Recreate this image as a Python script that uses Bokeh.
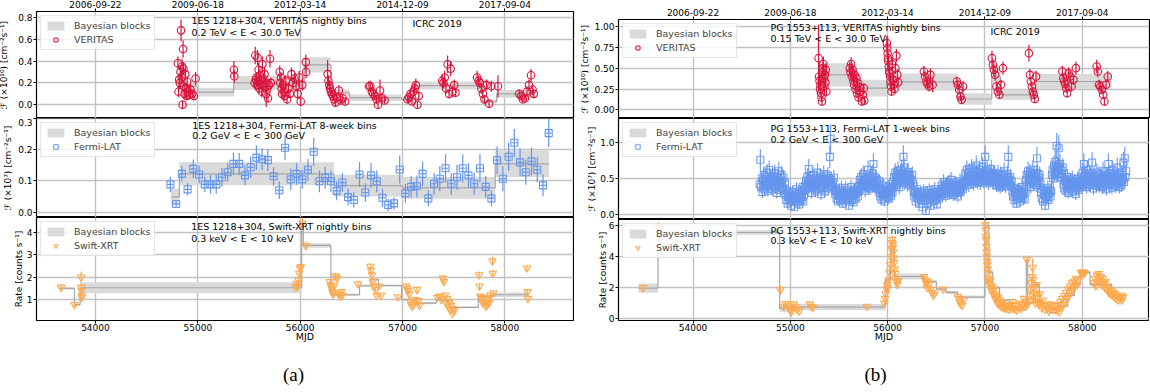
import numpy as np
from bokeh.plotting import figure
from bokeh.models import (Range1d, LinearAxis, FixedTicker, Grid, PrintfTickFormatter,
                          Legend, LegendItem, Label, ColumnDataSource)
from bokeh.layouts import row, column
from bokeh.embed import file_html
from bokeh.resources import INLINE

# ---------------------------------------------------------------- data
mjd_ticks = [54000, 55000, 56000, 57000, 58000]
date_labels = ["2006-09-22", "2009-06-18", "2012-03-14", "2014-12-09", "2017-09-04"]

# ---- (a) 1ES 1218+304, VERITAS nightly bins
ver_a_mjd = [54805, 54812, 54818, 54824, 54830, 54836, 54842, 54846, 54851, 54856, 54860, 54866,
             54872, 54878, 54884, 54890, 54896, 54905, 54915, 54928, 54945, 54962, 54978,
             55352, 55356,
             55555, 55561, 55567, 55572, 55578, 55583, 55588, 55594, 55600, 55606, 55612, 55618,
             55624, 55631, 55638, 55645, 55652, 55660, 55668, 55676, 55685, 55695, 55705, 55714,
             55800, 55806, 55812, 55818, 55824, 55832, 55840, 55850, 55860, 55872, 55885, 55900,
             55915, 55930, 55945, 55960, 55975, 55990, 56005, 56020,
             56055, 56058,
             56268, 56276, 56284, 56292, 56300, 56310, 56320, 56332, 56345, 56360, 56378, 56395, 56415, 56440,
             56672, 56685, 56700, 56715, 56730, 56745, 56760, 56780, 56800, 56825,
             57048, 57062, 57078, 57092, 57105, 57118, 57130, 57145, 57158,
             57388, 57400, 57412, 57425, 57440, 57455, 57470, 57488, 57505, 57518,
             57728, 57742, 57756, 57770, 57785, 57800, 57820, 57845, 57868,
             57932,
             58140, 58158, 58175, 58195, 58215, 58235, 58255, 58270, 58282]
ver_a_flux = [0.38, 0.12, 0.23, 0.20, 0.30, 0.68, 0.25, 0.35, 0.00, 0.51, 0.33, 0.17,
              0.10, 0.28, 0.15, 0.08, 0.21, 0.12, 0.09, 0.14, 0.10, 0.08, 0.24,
              0.32, 0.26,
              0.20, 0.45, 0.23, 0.25, 0.18, 0.43, 0.21, 0.32, 0.15, 0.27, 0.19, 0.22,
              0.12, 0.37, 0.24, 0.17, 0.28, 0.20, 0.10, 0.14, 0.06, 0.18, 0.42, 0.20,
              0.30, 0.20, 0.25, 0.15, 0.10, 0.18, 0.12, 0.08, 0.22, 0.05, 0.15, 0.10,
              0.28, 0.20, 0.24, 0.17, 0.10, 0.25, 0.03, 0.18,
              0.39, 0.30,
              0.28, 0.22, 0.18, 0.15, 0.12, 0.10, 0.08, 0.05, 0.02, 0.07, 0.13, 0.04, 0.06, 0.03,
              0.17, 0.17, 0.12, 0.10, 0.08, 0.05, 0.00, 0.13, 0.06, 0.04,
              0.05, 0.07, 0.10, 0.03, 0.12, 0.15, 0.18, 0.00, 0.08,
              0.22, 0.20, 0.25, 0.15, 0.37, 0.10, 0.33, 0.12, 0.18, 0.11,
              0.25, 0.22, 0.20, 0.15, 0.10, 0.05, 0.18, 0.01, 0.17,
              0.17,
              0.10, 0.08, 0.05, 0.06, 0.12, 0.18, 0.27, 0.14, 0.10]
ver_a_err = [0.06, 0.05, 0.06, 0.05, 0.06, 0.10, 0.06, 0.07, 0.04, 0.08, 0.06, 0.05,
             0.05, 0.06, 0.05, 0.04, 0.05, 0.05, 0.04, 0.05, 0.04, 0.04, 0.06,
             0.08, 0.06,
             0.05, 0.08, 0.05, 0.05, 0.05, 0.07, 0.05, 0.06, 0.05, 0.06, 0.05, 0.05,
             0.05, 0.07, 0.05, 0.05, 0.06, 0.05, 0.12, 0.05, 0.04, 0.05, 0.08, 0.05,
             0.06, 0.05, 0.05, 0.05, 0.05, 0.05, 0.05, 0.04, 0.05, 0.04, 0.05, 0.04,
             0.06, 0.05, 0.05, 0.05, 0.05, 0.06, 0.04, 0.05,
             0.07, 0.06,
             0.13, 0.05, 0.05, 0.05, 0.04, 0.04, 0.04, 0.04, 0.03, 0.04, 0.05, 0.03, 0.04, 0.03,
             0.05, 0.05, 0.04, 0.04, 0.04, 0.04, 0.03, 0.10, 0.04, 0.03,
             0.03, 0.04, 0.04, 0.03, 0.05, 0.05, 0.06, 0.03, 0.04,
             0.06, 0.05, 0.06, 0.05, 0.08, 0.04, 0.07, 0.05, 0.05, 0.04,
             0.06, 0.05, 0.05, 0.05, 0.04, 0.04, 0.05, 0.03, 0.05,
             0.10,
             0.04, 0.04, 0.03, 0.03, 0.05, 0.05, 0.06, 0.05, 0.04]
ver_a_bb_edges = [54800, 55000, 55350, 56040, 56300, 56480, 56990, 57160, 57780, 57920, 58290]
ver_a_bb_flux = [0.17, 0.115, 0.20, 0.365, 0.11, 0.065, 0.05, 0.175, 0.03, 0.10]
ver_a_bb_hw = [0.05, 0.04, 0.065, 0.07, 0.03, 0.03, 0.025, 0.035, 0.02, 0.035]

# ---- (a) 1ES 1218+304, Fermi-LAT 8-week bins (first bin centre, bin width in days)
lat_a_start = 54732
lat_a_bin = 56
lat_a_flux = [0.089, 0.026, 0.123, 0.073, 0.139, 0.121, 0.089, 0.089, 0.089, 0.112,
              0.128, 0.155, 0.155, 0.118, 0.144, 0.175, 0.170, 0.167, 0.115, 0.070,
              0.207, 0.105, 0.123, 0.105, 0.136, 0.194, 0.099, 0.110, 0.099, 0.068,
              0.095, 0.048, 0.039, 0.121, 0.063, 0.118, 0.099, 0.046, 0.023, 0.028,
              0.137, 0.060, 0.081, 0.083, 0.123, 0.044, 0.091, 0.107, 0.141, 0.091,
              0.112, 0.141, 0.118, 0.091, 0.141, 0.081, 0.044, 0.167, 0.107, 0.178,
              0.223, 0.160, 0.128, 0.163, 0.136, 0.086, 0.254]
lat_a_err = [0.025, 0.012, 0.025, 0.02, 0.03, 0.028, 0.025, 0.03, 0.03, 0.03,
             0.03, 0.035, 0.035, 0.032, 0.035, 0.04, 0.035, 0.035, 0.03, 0.028,
             0.04, 0.035, 0.035, 0.03, 0.035, 0.045, 0.035, 0.035, 0.035, 0.03,
             0.03, 0.028, 0.025, 0.04, 0.03, 0.04, 0.035, 0.03, 0.02, 0.02,
             0.045, 0.03, 0.035, 0.035, 0.04, 0.025, 0.035, 0.04, 0.045, 0.035,
             0.04, 0.045, 0.04, 0.035, 0.045, 0.035, 0.025, 0.045, 0.04, 0.045,
             0.045, 0.045, 0.04, 0.045, 0.04, 0.035, 0.045]
lat_a_bb_edges = [54738, 54820, 56330, 56998, 57905, 58430]
lat_a_bb_flux = [0.048, 0.123, 0.085, 0.078, 0.155]
lat_a_bb_hw = [0.027, 0.037, 0.035, 0.035, 0.043]

# ---- (a) 1ES 1218+304, Swift-XRT nightly bins
xrt_a_mjd = [53665, 53795, 53860, 53862, 53864, 53866, 53868,
             55958, 55966, 55974, 55982, 55990, 55998, 56006, 56022, 56055,
             56290, 56298, 56306, 56314, 56322, 56330, 56345, 56360, 56375, 56390, 56400, 56410,
             56565,
             56685, 56692, 56700, 56710, 56720, 56735, 56750, 56770, 56790,
             56955,
             57035, 57045, 57055, 57065, 57075, 57085, 57095, 57110, 57125, 57140, 57155, 57165,
             57340, 57360, 57380, 57395, 57405, 57415, 57425, 57435, 57445, 57455, 57465, 57475, 57485, 57495, 57505,
             57748, 57752, 57760, 57775, 57785, 57795, 57805, 57815, 57825, 57835, 57845, 57858, 57878, 57882, 57888,
             58215, 58220, 58225]
xrt_a_rate = [1.55, 0.78, 2.0, 1.55, 1.4, 1.18, 1.1,
              1.57, 1.72, 1.6, 1.87, 2.17, 2.4, 2.47, 4.4, 3.4,
              1.8, 1.65, 1.5, 1.35, 1.25, 1.6, 2.05, 1.95, 1.28, 1.15, 1.35, 1.2,
              1.7,
              2.48, 2.3, 2.1, 1.8, 1.6, 1.45, 1.18, 1.6, 1.2,
              1.12,
              1.6, 1.5, 1.4, 1.25, 0.92, 0.78, 0.7, 0.8, 1.0, 1.45, 0.95, 0.75,
              1.1, 1.15, 1.0, 1.95, 1.8, 1.2, 0.85, 1.05, 0.7, 0.9, 0.55, 0.75, 0.4, 0.6, 0.5,
              2.1, 1.6, 1.15, 1.0, 0.85, 1.1, 0.9, 0.7, 0.8, 1.0, 0.85, 1.2, 2.72, 2.17, 1.3,
              2.4, 1.35, 1.05]
xrt_a_err = [0.1, 0.1, 0.25, 0.12, 0.1, 0.1, 0.1,
             0.1, 0.12, 0.1, 0.12, 0.15, 0.15, 0.15, 0.3, 0.2,
             0.12, 0.1, 0.1, 0.1, 0.08, 0.1, 0.15, 0.12, 0.1, 0.08, 0.1, 0.08,
             0.12,
             0.15, 0.15, 0.12, 0.12, 0.1, 0.1, 0.08, 0.1, 0.08,
             0.1,
             0.12, 0.1, 0.1, 0.1, 0.08, 0.07, 0.07, 0.08, 0.1, 0.12, 0.08, 0.07,
             0.1, 0.1, 0.08, 0.15, 0.12, 0.1, 0.08, 0.1, 0.07, 0.08, 0.06, 0.07, 0.05, 0.06, 0.06,
             0.15, 0.12, 0.1, 0.08, 0.08, 0.1, 0.08, 0.07, 0.08, 0.1, 0.08, 0.1, 0.2, 0.15, 0.1,
             0.15, 0.1, 0.08]
xrt_a_bb_edges = [53640, 53795, 53850, 56015, 56030, 56300, 56580, 56690, 56765, 56990,
                  57150, 57330, 57480, 57740, 57890, 58230]
xrt_a_bb_rate = [1.5, 0.78, 1.53, 4.4, 3.41, 1.22, 1.62, 1.9, 1.63, 1.0, 0.85, 1.0, 0.66, 1.16, 1.22]
xrt_a_bb_hw = [0.05, 0.05, 0.24, 0.1, 0.1, 0.06, 0.06, 0.08, 0.05, 0.05, 0.05, 0.05, 0.04, 0.06, 0.1]

# ---- (b) PG 1553+113, VERITAS nightly bins
ver_b_mjd = [55290, 55295, 55300, 55305, 55310, 55315, 55320, 55325, 55330, 55335, 55340, 55345,
             55350, 55355, 55360, 55365, 55370,
             55610, 55618, 55625, 55632, 55640, 55648, 55655, 55662, 55670, 55678, 55685, 55692,
             55700, 55710, 55720, 55735, 55745, 55755, 55760,
             55992, 55996, 56000, 56004, 56008, 56012, 56016, 56020, 56025, 56030, 56035, 56040,
             56048, 56055, 56062, 56070, 56080, 56090, 56100, 56108,
             56372, 56385, 56398, 56410, 56425, 56440, 56462,
             56712, 56722, 56735, 56748, 56760, 56775,
             57072, 57082, 57092, 57105, 57118, 57132, 57148, 57165, 57185,
             57452, 57462, 57472, 57482, 57492, 57502, 57512, 57525,
             57795, 57805, 57815, 57825, 57835, 57845, 57860, 57875, 57890, 57910, 57935,
             58148, 58160, 58172, 58185, 58200, 58215, 58228, 58245, 58262]
ver_b_flux = [0.62, 0.40, 0.35, 0.25, 0.30, 0.20, 0.15, 0.10, 0.45, 0.50, 0.55, 0.38,
              0.28, 0.42, 0.33, 0.48, 0.22,
              0.50, 0.45, 0.55, 0.40, 0.48, 0.35, 0.30, 0.42, 0.25, 0.38, 0.20, 0.32,
              0.15, 0.27, 0.22, 0.10, 0.18, 0.26, 0.11,
              0.80, 0.74, 0.68, 0.62, 0.58, 0.52, 0.46, 0.44, 0.40, 0.34, 0.28, 0.22,
              0.55, 0.36, 0.30, 0.25, 0.50, 0.65, 0.42, 0.33,
              0.46, 0.40, 0.34, 0.31, 0.28, 0.42, 0.30,
              0.34, 0.30, 0.24, 0.16, 0.12, 0.28,
              0.62, 0.54, 0.48, 0.42, 0.28, 0.22, 0.18, 0.30, 0.50,
              0.68, 0.42, 0.34, 0.28, 0.22, 0.18, 0.13, 0.40,
              0.46, 0.38, 0.34, 0.31, 0.26, 0.20, 0.44, 0.40, 0.28, 0.36, 0.50,
              0.52, 0.46, 0.30, 0.28, 0.24, 0.18, 0.10, 0.30, 0.40]
ver_b_err = [0.40, 0.08, 0.07, 0.06, 0.06, 0.06, 0.05, 0.05, 0.08, 0.08, 0.09, 0.07,
             0.06, 0.07, 0.06, 0.08, 0.06,
             0.08, 0.07, 0.08, 0.07, 0.08, 0.07, 0.06, 0.07, 0.06, 0.07, 0.06, 0.06,
             0.05, 0.06, 0.06, 0.05, 0.05, 0.06, 0.05,
             0.09, 0.08, 0.20, 0.08, 0.07, 0.07, 0.07, 0.06, 0.06, 0.06, 0.06, 0.05,
             0.08, 0.06, 0.06, 0.06, 0.07, 0.08, 0.07, 0.06,
             0.07, 0.07, 0.06, 0.06, 0.06, 0.08, 0.09,
             0.06, 0.06, 0.05, 0.05, 0.04, 0.07,
             0.09, 0.08, 0.08, 0.07, 0.06, 0.05, 0.05, 0.06, 0.08,
             0.10, 0.07, 0.06, 0.06, 0.05, 0.05, 0.05, 0.07,
             0.07, 0.06, 0.06, 0.06, 0.05, 0.05, 0.07, 0.07, 0.06, 0.06, 0.08,
             0.08, 0.07, 0.06, 0.06, 0.05, 0.05, 0.05, 0.06, 0.07]
ver_b_bb_edges = [55285, 55620, 55735, 55990, 56720, 57070, 57160, 57520, 58300]
ver_b_bb_flux = [0.42, 0.35, 0.26, 0.335, 0.13, 0.40, 0.18, 0.34]
ver_b_bb_hw = [0.14, 0.08, 0.10, 0.10, 0.07, 0.08, 0.06, 0.09]

# ---- (b) PG 1553+113, Fermi-LAT 1-week bins (first bin centre, bin width in days)
lat_b_start = 54685
lat_b_bin = 7
lat_b_flux = [
    0.42, 0.76, 0.38, 0.50, 0.31, 0.47, 0.55, 0.36, 0.44, 0.52,
    0.40, 0.58, 0.33, 0.46, 0.62, 0.39, 0.50, 0.44, 0.35, 0.53,
    0.48, 0.41, 0.57, 0.37, 0.45, 0.30, 0.52, 0.43, 0.60, 0.38,
    0.47, 0.34, 0.55, 0.42, 0.36, 0.51, 0.29, 0.44,
    0.27, 0.20, 0.33, 0.15, 0.24, 0.30, 0.18, 0.26, 0.12, 0.22,
    0.31, 0.19, 0.25, 0.10, 0.28, 0.21, 0.35, 0.17, 0.23, 0.29,
    0.14, 0.26, 0.32, 0.20, 0.24, 0.38, 0.18, 0.27, 0.33,
    0.40, 0.47, 0.36, 0.52, 0.44, 0.63, 0.38, 0.49, 0.42, 0.30,
    0.45, 0.55, 0.37, 0.48, 0.41, 0.33, 0.50, 0.43, 0.58, 0.35,
    0.46, 0.39, 0.52, 0.28, 0.44, 0.49, 0.37, 0.56, 0.41, 0.32,
    0.47, 0.43, 0.38, 0.54, 0.45, 0.50, 0.80, 1.05, 0.48, 0.40,
    0.36, 0.44, 0.51, 0.33,
    0.28, 0.35, 0.22, 0.31, 0.18, 0.26, 0.34, 0.20, 0.29, 0.37,
    0.24, 0.15, 0.30, 0.27, 0.21, 0.36, 0.19, 0.28, 0.33, 0.23,
    0.12, 0.29, 0.25, 0.38, 0.20, 0.31, 0.26, 0.17, 0.34, 0.28,
    0.22, 0.30, 0.36, 0.25, 0.32,
    0.40, 0.48, 0.35, 0.52, 0.44, 0.39, 0.56, 0.42, 0.47, 0.33,
    0.50, 0.45, 0.38, 0.62, 0.41, 0.49, 0.36, 0.53, 0.46, 0.40,
    0.57, 0.70, 0.44, 0.39, 0.51, 0.37, 0.48, 0.43, 0.35, 0.46,
    0.30, 0.25, 0.36, 0.21, 0.33, 0.28, 0.40, 0.18, 0.31, 0.27,
    0.35, 0.24, 0.30, 0.38, 0.22, 0.29, 0.34, 0.26, 0.37, 0.31,
    0.45, 0.52, 0.40, 0.58, 0.47, 0.55, 0.43, 0.61, 0.50, 0.38,
    0.54, 0.46, 0.62, 0.49, 0.57, 0.80, 0.65, 0.44, 0.52, 0.48,
    0.56, 0.42, 0.59, 0.51, 0.45, 0.53, 0.40, 0.48, 0.55, 0.43,
    0.32, 0.25, 0.30, 0.18, 0.27, 0.35, 0.22, 0.29, 0.15, 0.26,
    0.31, 0.20, 0.28, 0.10, 0.24, 0.33, 0.19, 0.27, 0.05, 0.22,
    0.30, 0.16, 0.25, 0.34, 0.21, 0.12, 0.28, 0.23, 0.31, 0.18,
    0.26, 0.35, 0.20, 0.29, 0.14, 0.27, 0.32, 0.22, 0.30, 0.25,
    0.33, 0.40, 0.28, 0.36, 0.45, 0.31, 0.38, 0.26, 0.42, 0.34,
    0.29, 0.37, 0.44, 0.30, 0.39, 0.48, 0.32, 0.35, 0.27, 0.41,
    0.36, 0.30, 0.43, 0.33, 0.38, 0.25, 0.40, 0.34, 0.46, 0.31,
    0.37, 0.42, 0.35, 0.39, 0.44,
    0.50, 0.57, 0.45, 0.62, 0.48, 0.53, 0.41, 0.59, 0.52, 0.46,
    0.64, 0.49, 0.55, 0.43, 0.60, 0.51, 0.47, 0.68, 0.54, 0.45,
    0.58, 0.50, 0.62, 0.44, 0.53, 0.49, 0.66, 0.52, 0.46, 0.57,
    0.80, 0.55, 0.48, 0.61, 0.50, 0.44, 0.58, 0.53, 0.47, 0.63,
    0.51, 0.45, 0.56, 0.49, 0.54,
    0.45, 0.52, 0.40, 0.48, 0.57, 0.42, 0.50, 0.38, 0.55, 0.46,
    0.41, 0.53, 0.44, 0.60, 0.47, 0.39, 0.51, 0.45, 0.56, 0.80,
    0.48, 0.43, 0.52, 0.40, 0.46,
    0.32, 0.25, 0.36, 0.20, 0.30, 0.27, 0.15, 0.34, 0.22, 0.29,
    0.35, 0.18, 0.31, 0.26, 0.38, 0.23, 0.28, 0.33, 0.21, 0.30,
    0.48, 0.55, 0.42, 0.60, 0.50, 0.45, 0.58, 0.38, 0.53, 0.47,
    0.62, 0.44, 0.56, 0.49, 0.52, 0.41, 0.78, 0.57, 0.46, 0.51,
    0.55, 0.43,
    0.30, 0.22, 0.35, 0.18, 0.28, 0.33, 0.12, 0.26, 0.31, 0.24,
    0.37, 0.20, 0.29, 0.34, 0.25, 0.32,
    0.55, 0.62, 0.50, 0.68, 0.58, 0.73, 0.60, 0.95, 0.66, 0.56,
    0.92, 0.64, 0.70, 0.52, 0.61, 0.57, 0.65,
    0.42, 0.36, 0.48, 0.33, 0.45, 0.40, 0.52, 0.30, 0.44, 0.38,
    0.47, 0.35, 0.41, 0.50, 0.32, 0.43, 0.39, 0.46, 0.28, 0.42,
    0.37, 0.49, 0.34, 0.44, 0.40,
    0.45, 0.52, 0.40, 0.58, 0.48, 0.70, 0.43, 0.55, 0.47, 0.38,
    0.62, 0.50, 0.44, 0.57, 0.41, 0.53, 0.46, 0.72, 0.49, 0.36,
    0.54, 0.45, 0.51, 0.40, 0.58, 0.47, 0.43, 0.55, 0.39, 0.50,
    0.44, 0.52, 0.38, 0.60, 0.47, 0.41, 0.55, 0.46, 0.35, 0.53,
    0.49, 0.70, 0.42, 0.57, 0.45, 0.51, 0.37, 0.62, 0.48, 0.43,
    0.56, 0.40, 0.50, 0.46, 0.65, 0.44, 0.52, 0.38, 0.58, 0.47,
    0.41, 0.55, 0.49, 0.72, 0.45, 0.78, 0.52, 0.60]
lat_b_err = [
    0.10, 0.15, 0.09, 0.11, 0.08, 0.10, 0.12, 0.09, 0.10, 0.11,
    0.10, 0.12, 0.08, 0.10, 0.13, 0.09, 0.11, 0.10, 0.09, 0.12,
    0.11, 0.10, 0.12, 0.09, 0.10, 0.08, 0.11, 0.10, 0.13, 0.09,
    0.11, 0.09, 0.12, 0.10, 0.09, 0.11, 0.08, 0.10,
    0.08, 0.07, 0.09, 0.06, 0.08, 0.09, 0.07, 0.08, 0.06, 0.08,
    0.09, 0.07, 0.08, 0.05, 0.09, 0.07, 0.10, 0.07, 0.08, 0.09,
    0.06, 0.08, 0.09, 0.07, 0.08, 0.10, 0.07, 0.08, 0.09,
    0.10, 0.11, 0.09, 0.12, 0.10, 0.14, 0.09, 0.11, 0.10, 0.08,
    0.10, 0.12, 0.09, 0.11, 0.10, 0.09, 0.11, 0.10, 0.13, 0.09,
    0.10, 0.09, 0.12, 0.08, 0.10, 0.11, 0.09, 0.12, 0.10, 0.08,
    0.11, 0.10, 0.09, 0.12, 0.10, 0.11, 0.16, 0.20, 0.11, 0.10,
    0.09, 0.10, 0.11, 0.09,
    0.08, 0.09, 0.07, 0.09, 0.06, 0.08, 0.09, 0.07, 0.08, 0.10,
    0.08, 0.06, 0.09, 0.08, 0.07, 0.10, 0.07, 0.08, 0.09, 0.07,
    0.05, 0.08, 0.08, 0.10, 0.07, 0.09, 0.08, 0.06, 0.09, 0.08,
    0.07, 0.09, 0.10, 0.08, 0.09,
    0.10, 0.11, 0.09, 0.12, 0.10, 0.09, 0.12, 0.10, 0.11, 0.09,
    0.11, 0.10, 0.09, 0.13, 0.10, 0.11, 0.09, 0.12, 0.10, 0.10,
    0.12, 0.15, 0.10, 0.09, 0.11, 0.09, 0.11, 0.10, 0.09, 0.10,
    0.09, 0.08, 0.10, 0.07, 0.09, 0.08, 0.10, 0.07, 0.09, 0.08,
    0.10, 0.08, 0.09, 0.10, 0.07, 0.09, 0.09, 0.08, 0.10, 0.09,
    0.11, 0.12, 0.10, 0.13, 0.11, 0.12, 0.10, 0.13, 0.11, 0.10,
    0.12, 0.11, 0.13, 0.11, 0.12, 0.16, 0.14, 0.10, 0.12, 0.11,
    0.12, 0.10, 0.13, 0.11, 0.10, 0.12, 0.10, 0.11, 0.12, 0.10,
    0.09, 0.08, 0.09, 0.07, 0.08, 0.10, 0.07, 0.09, 0.06, 0.08,
    0.09, 0.07, 0.08, 0.05, 0.08, 0.09, 0.07, 0.08, 0.04, 0.07,
    0.09, 0.06, 0.08, 0.09, 0.07, 0.05, 0.08, 0.07, 0.09, 0.06,
    0.08, 0.10, 0.07, 0.08, 0.06, 0.08, 0.09, 0.07, 0.09, 0.08,
    0.09, 0.10, 0.08, 0.09, 0.11, 0.09, 0.10, 0.08, 0.10, 0.09,
    0.08, 0.10, 0.11, 0.09, 0.10, 0.11, 0.09, 0.09, 0.08, 0.10,
    0.09, 0.09, 0.10, 0.09, 0.10, 0.08, 0.10, 0.09, 0.11, 0.09,
    0.10, 0.10, 0.09, 0.10, 0.11,
    0.11, 0.12, 0.10, 0.13, 0.11, 0.12, 0.10, 0.12, 0.11, 0.10,
    0.13, 0.11, 0.12, 0.10, 0.13, 0.11, 0.10, 0.14, 0.12, 0.10,
    0.12, 0.11, 0.13, 0.10, 0.12, 0.11, 0.13, 0.11, 0.10, 0.12,
    0.16, 0.12, 0.11, 0.13, 0.11, 0.10, 0.12, 0.11, 0.10, 0.13,
    0.11, 0.10, 0.12, 0.11, 0.12,
    0.10, 0.11, 0.09, 0.11, 0.12, 0.10, 0.11, 0.09, 0.12, 0.10,
    0.10, 0.11, 0.10, 0.12, 0.11, 0.09, 0.11, 0.10, 0.12, 0.16,
    0.11, 0.10, 0.11, 0.09, 0.10,
    0.09, 0.08, 0.09, 0.07, 0.09, 0.08, 0.06, 0.09, 0.07, 0.08,
    0.09, 0.07, 0.09, 0.08, 0.10, 0.07, 0.08, 0.09, 0.07, 0.08,
    0.11, 0.12, 0.10, 0.13, 0.11, 0.10, 0.12, 0.09, 0.12, 0.11,
    0.13, 0.10, 0.12, 0.11, 0.11, 0.10, 0.16, 0.12, 0.10, 0.11,
    0.12, 0.10,
    0.09, 0.07, 0.09, 0.06, 0.08, 0.09, 0.05, 0.08, 0.09, 0.07,
    0.10, 0.07, 0.08, 0.09, 0.08, 0.09,
    0.12, 0.13, 0.11, 0.14, 0.12, 0.15, 0.13, 0.18, 0.14, 0.12,
    0.18, 0.13, 0.14, 0.11, 0.13, 0.12, 0.13,
    0.10, 0.09, 0.11, 0.09, 0.10, 0.10, 0.11, 0.08, 0.10, 0.09,
    0.11, 0.09, 0.10, 0.11, 0.08, 0.10, 0.09, 0.10, 0.08, 0.10,
    0.09, 0.11, 0.09, 0.10, 0.10,
    0.11, 0.12, 0.10, 0.13, 0.11, 0.15, 0.10, 0.12, 0.11, 0.09,
    0.13, 0.11, 0.10, 0.12, 0.10, 0.12, 0.11, 0.15, 0.11, 0.09,
    0.12, 0.10, 0.11, 0.10, 0.13, 0.11, 0.10, 0.12, 0.09, 0.11,
    0.11, 0.12, 0.10, 0.13, 0.11, 0.10, 0.12, 0.11, 0.09, 0.12,
    0.11, 0.15, 0.10, 0.12, 0.11, 0.12, 0.09, 0.13, 0.11, 0.10,
    0.12, 0.10, 0.11, 0.11, 0.14, 0.10, 0.12, 0.09, 0.13, 0.11,
    0.10, 0.12, 0.11, 0.15, 0.11, 0.16, 0.12, 0.13]
lat_b_bb_edges = [54682, 54948, 55150, 55458, 55703, 55913, 56053, 56263, 56543, 56788,
                  57103, 57278, 57418, 57572, 57684, 57803, 57978, 58454]
lat_b_bb_flux = [0.45, 0.24, 0.44, 0.28, 0.46, 0.30, 0.51, 0.25, 0.36, 0.53,
                 0.47, 0.27, 0.51, 0.27, 0.63, 0.40, 0.49]
lat_b_bb_hw = [0.05, 0.04, 0.05, 0.04, 0.05, 0.04, 0.05, 0.04, 0.04, 0.05,
               0.05, 0.04, 0.05, 0.04, 0.06, 0.05, 0.05]

# ---- (b) PG 1553+113, Swift-XRT nightly bins
xrt_b_mjd = [53486, 53645, 53650, 53655,
             54898, 54930, 54950, 54975, 55000, 55010, 55020, 55035, 55050, 55070, 55090, 55200, 55215, 55230, 55788,
             55965, 55972, 55980, 55988, 55995, 56002, 56010, 56018, 56025, 56032, 56040, 56046,
             56048, 56052, 56055, 56058, 56062, 56068, 56072, 56078, 56085, 56092, 56100, 56108,
             56375, 56385, 56395, 56405, 56415, 56425, 56440, 56455, 56470, 56480,
             56570,
             56720, 56730, 56740, 56750, 56765, 56780,
             57005, 57008, 57010, 57012, 57015, 57018, 57020, 57023, 57025, 57028, 57030, 57033,
             57040, 57048, 57055, 57060, 57068, 57075, 57082, 57090, 57098, 57105, 57112, 57120,
             57128, 57135, 57142, 57150, 57158, 57165, 57172, 57180, 57190, 57200, 57210, 57220,
             57232, 57245, 57255,
             57265, 57275, 57285, 57295, 57305, 57318, 57330, 57345, 57360, 57372, 57385,
             57400, 57410, 57420, 57430, 57435,
             57455, 57462, 57470, 57478, 57485, 57490, 57495, 57500, 57505, 57510, 57518, 57525,
             57532, 57540, 57548, 57555, 57565,
             57575, 57585, 57595, 57605, 57615, 57625, 57640, 57655, 57670, 57685, 57700, 57715, 57730,
             57745, 57755, 57765, 57775, 57785, 57795, 57805, 57815, 57825, 57835, 57845, 57855,
             57865, 57875, 57885, 57895, 57905, 57915, 57925, 57935, 57945, 57955,
             57985, 57995, 58005, 58015, 58025,
             58120, 58130, 58140, 58150, 58160, 58170, 58180, 58190, 58200, 58210, 58220, 58230,
             58240, 58250, 58260, 58270, 58280,
             58290, 58300, 58310, 58320, 58330, 58340, 58350, 58360, 58370, 58380, 58390, 58400,
             58410, 58420]
xrt_b_rate = [2.0, 5.93, 5.6, 5.14,
              1.86, 0.8, 0.97, 0.86, 0.55, 0.45, 0.7, 0.95, 0.8, 0.6, 0.5, 0.95, 0.8, 0.75, 0.8,
              1.0, 1.3, 1.6, 1.9, 2.2, 2.0, 2.5, 3.0, 3.5, 4.0, 4.5, 4.9,
              5.1, 4.8, 4.6, 4.3, 3.9, 3.6, 3.2, 2.9, 2.6, 2.4, 2.2, 2.45,
              2.7, 2.5, 2.3, 2.0, 2.4, 2.2, 1.9, 1.7, 1.5, 1.6,
              1.9,
              1.44, 1.3, 1.1, 0.95, 0.87, 1.2,
              6.05, 5.72, 5.3, 5.08, 4.65, 4.3, 4.0, 3.7, 3.47, 3.2, 2.93, 2.6,
              2.4, 2.2, 2.5, 2.0, 1.8, 2.1, 1.6, 1.9, 1.5, 1.3, 1.6, 1.2,
              1.0, 1.4, 1.1, 0.9, 1.2, 0.8, 1.0, 0.75, 0.9, 0.7, 0.85, 0.65,
              0.8, 0.6, 0.75,
              0.9, 0.65, 1.1, 0.7, 0.6, 0.85, 0.55, 0.75, 1.0, 0.65, 0.9,
              1.3, 0.8, 1.1, 3.8, 0.9,
              1.2, 1.5, 1.9, 2.3, 2.7, 3.3, 2.5, 2.0, 1.6, 1.3, 1.0, 1.7,
              2.2, 1.4, 1.1, 0.9, 1.6,
              1.0, 0.7, 1.2, 0.85, 0.6, 0.9, 0.7, 0.5, 0.95, 0.75, 0.6, 0.85, 0.55,
              0.6, 0.9, 0.45, 1.1, 0.7, 1.3, 0.9, 1.5, 1.1, 1.7, 1.3, 1.9,
              1.5, 2.1, 1.8, 2.3, 1.9, 2.4, 2.1, 2.6, 2.2, 2.5,
              2.98, 3.0, 2.9, 3.0, 2.95,
              2.3, 2.6, 2.1, 2.8, 2.4, 2.9, 2.5, 2.7, 2.2, 2.6, 2.3, 2.0,
              2.4, 1.9, 2.1, 1.7, 1.9,
              1.6, 1.8, 1.5, 1.7, 1.4, 1.6, 1.3, 1.5, 1.2, 1.4, 1.3, 1.5,
              1.2, 1.4]
xrt_b_err = [0.2, 0.3, 0.3, 0.3,
             0.3, 0.1, 0.12, 0.1, 0.08, 0.08, 0.1, 0.12, 0.1, 0.08, 0.08, 0.12, 0.1, 0.1, 0.1,
             0.1, 0.12, 0.12, 0.15, 0.15, 0.15, 0.15, 0.2, 0.2, 0.2, 0.25, 0.25,
             0.25, 0.25, 0.25, 0.2, 0.2, 0.2, 0.2, 0.15, 0.15, 0.15, 0.15, 0.15,
             0.2, 0.15, 0.15, 0.12, 0.15, 0.12, 0.12, 0.1, 0.1, 0.1,
             0.12,
             0.1, 0.1, 0.08, 0.08, 0.07, 0.1,
             0.3, 0.3, 0.25, 0.25, 0.25, 0.2, 0.2, 0.2, 0.2, 0.15, 0.15, 0.15,
             0.15, 0.15, 0.15, 0.12, 0.12, 0.12, 0.1, 0.12, 0.1, 0.1, 0.1, 0.1,
             0.08, 0.1, 0.08, 0.07, 0.08, 0.07, 0.08, 0.06, 0.07, 0.06, 0.07, 0.06,
             0.07, 0.06, 0.06,
             0.08, 0.06, 0.1, 0.06, 0.06, 0.07, 0.05, 0.07, 0.08, 0.06, 0.07,
             0.1, 0.07, 0.1, 0.2, 0.08,
             0.1, 0.12, 0.15, 0.15, 0.2, 0.6, 0.2, 0.15, 0.12, 0.1, 0.08, 0.12,
             0.15, 0.1, 0.08, 0.07, 0.12,
             0.08, 0.06, 0.1, 0.07, 0.05, 0.07, 0.06, 0.05, 0.08, 0.06, 0.05, 0.07, 0.05,
             0.05, 0.07, 0.05, 0.08, 0.06, 0.1, 0.07, 0.1, 0.08, 0.12, 0.1, 0.12,
             0.1, 0.12, 0.12, 0.15, 0.12, 0.15, 0.12, 0.15, 0.12, 0.15,
             0.15, 0.15, 0.15, 0.15, 0.15,
             0.12, 0.15, 0.12, 0.15, 0.12, 0.15, 0.12, 0.15, 0.12, 0.15, 0.12, 0.1,
             0.12, 0.1, 0.1, 0.1, 0.1,
             0.1, 0.1, 0.1, 0.1, 0.08, 0.1, 0.08, 0.1, 0.08, 0.08, 0.08, 0.1,
             0.08, 0.08]
xrt_b_bb_edges = [53440, 53640, 54890, 55000, 55976, 56030, 56070, 56370, 56500, 56600,
                  56720, 57000, 57040, 57080, 57150, 57260, 57425, 57440, 57500, 57560,
                  57660, 57740, 57850, 57920, 57980, 58080, 58300, 58440]
xrt_b_bb_rate = [1.97, 5.55, 0.67, 0.75, 2.5, 4.6, 2.72, 2.4, 1.91, 1.7, 1.4, 6.0, 3.0, 2.0,
                 1.2, 0.58, 3.8, 1.0, 2.2, 0.87, 0.4, 0.8, 1.5, 2.2, 2.98, 2.2, 1.5]
xrt_b_bb_hw = [0.3, 0.15, 0.25, 0.2, 0.2, 0.2, 0.2, 0.1, 0.1, 0.1, 0.1, 0.2, 0.15, 0.1,
               0.08, 0.06, 0.3, 0.08, 0.15, 0.06, 0.06, 0.06, 0.08, 0.1, 0.1, 0.08, 0.08]

captions = ["(a)", "(b)"]

# ---------------------------------------------------------------- style
FONT = "DejaVu Sans"
GRID_COLOR = "#c2c2c2"
BAND_COLOR = "#dadada"
STEP_COLOR = "#a6a6a6"
C_VER = "#dc143c"
C_LAT = "#6495ed"
C_XRT = "#ffa94d"
FRAMES = {}


def style_axis(ax, tick_font="9px", label_font="9px"):
    ax.major_label_text_font = FONT
    ax.major_label_text_font_size = tick_font
    ax.major_label_text_color = "black"
    ax.axis_label_text_font = FONT
    ax.axis_label_text_font_size = label_font
    ax.axis_label_text_font_style = "normal"
    ax.axis_label_text_color = "black"
    ax.major_tick_out = 3
    ax.major_tick_in = 0
    ax.minor_tick_out = 0
    ax.minor_tick_in = 0
    ax.major_tick_line_color = "black"
    ax.major_tick_line_width = 1
    ax.axis_line_color = None
    ax.major_label_standoff = 1


def panel(xr, yr, fw, fh, bl, br, bt, bb, yticks, yfmt, ylabel, ylab_standoff):
    p = figure(x_range=Range1d(*xr), y_range=Range1d(*yr),
               frame_width=fw, frame_height=fh,
               min_border_left=bl, min_border_right=br, min_border_top=bt, min_border_bottom=bb,
               x_axis_location=None, y_axis_location=None,
               toolbar_location=None, output_backend="svg")
    p.center = []
    p.outline_line_color = "black"
    p.outline_line_width = 1.2
    p.background_fill_color = "white"
    p.border_fill_color = "white"
    yax = LinearAxis(ticker=FixedTicker(ticks=yticks), formatter=PrintfTickFormatter(format=yfmt),
                     axis_label=ylabel)
    style_axis(yax)
    yax.axis_label_standoff = ylab_standoff
    p.add_layout(yax, "left")
    p.add_layout(Grid(dimension=0, ticker=FixedTicker(ticks=mjd_ticks),
                      grid_line_color=GRID_COLOR, grid_line_width=1.4))
    p.add_layout(Grid(dimension=1, ticker=FixedTicker(ticks=yticks),
                      grid_line_color=GRID_COLOR, grid_line_width=1.4))
    FRAMES[id(p)] = (xr, yr, fw, fh)
    return p


def date_axis(p):
    ax = LinearAxis(ticker=FixedTicker(ticks=mjd_ticks),
                    major_label_overrides={t: d for t, d in zip(mjd_ticks, date_labels)})
    style_axis(ax)
    p.add_layout(ax, "above")


def mjd_axis(p):
    ax = LinearAxis(ticker=FixedTicker(ticks=mjd_ticks), formatter=PrintfTickFormatter(format="%d"),
                    axis_label="MJD")
    style_axis(ax, label_font="9.5px")
    ax.major_label_standoff = 0
    ax.axis_label_standoff = -3
    p.add_layout(ax, "below")


def blocks(p, edges, vals, hws):
    e = np.asarray(edges, float)
    v = np.asarray(vals, float)
    h = np.asarray(hws, float)
    src = ColumnDataSource(dict(l=e[:-1], r=e[1:], b=v - h, t=v + h))
    band = p.quad(left="l", right="r", bottom="b", top="t", source=src,
                  fill_color=BAND_COLOR, fill_alpha=1.0, line_color=None)
    p.step(x=e, y=np.append(v, v[-1]), mode="after", line_color=STEP_COLOR, line_width=1.2)
    return band


def points(p, x, y, err, xerr, marker, color, size, alpha=1.0):
    n = min(len(x), len(y), len(err))
    x = np.asarray(x[:n], float)
    y = np.asarray(y[:n], float)
    e = np.asarray(err[:n], float)
    src = ColumnDataSource(dict(x=x, y=y, lo=y - e, hi=y + e, xl=x - xerr, xh=x + xerr))
    p.segment(x0="x", y0="lo", x1="x", y1="hi", source=src, line_color=color,
              line_width=1.2, line_alpha=alpha)
    if xerr > 0:
        p.segment(x0="xl", y0="y", x1="xh", y1="y", source=src, line_color=color,
                  line_width=1.2, line_alpha=alpha)
    mk = p.scatter("x", "y", source=src, marker=marker, size=size, fill_color=None,
                   line_color=color, line_width=1.1, line_alpha=alpha)
    return mk


def legend(p, band, mk, name):
    leg = Legend(items=[LegendItem(label="Bayesian blocks", renderers=[band]),
                        LegendItem(label=name, renderers=[mk])],
                 location="top_left", margin=4, padding=4, spacing=3,
                 glyph_width=21, glyph_height=11, label_height=11, label_standoff=8,
                 label_text_font=FONT, label_text_font_size="9.5px",
                 border_line_color="#cccccc", border_line_width=1,
                 background_fill_color="white", background_fill_alpha=0.85)
    p.add_layout(leg)


def to_data(p, dx, dy):
    xr, yr, fw, fh = FRAMES[id(p)]
    return (xr[0] + dx / fw * (xr[1] - xr[0]), yr[1] - dy / fh * (yr[1] - yr[0]))


def note(p, dx, dy, s):
    x, y = to_data(p, dx, dy)
    p.add_layout(Label(x=x, y=y, text=s, text_font=FONT, text_font_size="9.5px",
                       text_color="black", text_align="left", text_baseline="alphabetic"))


def caption_fig(fw, fh, bl, br, cx, cy_from_top, text):
    p = figure(x_range=Range1d(0, fw), y_range=Range1d(0, fh),
               frame_width=fw, frame_height=fh,
               min_border_left=bl, min_border_right=br, min_border_top=0, min_border_bottom=0,
               x_axis_location=None, y_axis_location=None,
               toolbar_location=None, output_backend="svg")
    p.center = []
    p.outline_line_color = None
    p.background_fill_color = "white"
    p.border_fill_color = "white"
    p.add_layout(Label(x=cx, y=fh - cy_from_top, text=text, text_font="Liberation Serif",
                       text_font_size="19px", text_color="black", text_align="center",
                       text_baseline="middle"))
    return p


# ---------------------------------------------------------------- (a)
XA = (53424, 58670)
FWA = 537
a_top = panel(XA, (-0.125, 0.852), FWA, 107, 37, 4, 15, 0,
              [0.0, 0.2, 0.4, 0.6, 0.8], "%.1f", "\u2131 (\u00d710\u00b9\u2070) [cm\u207b\u00b2s\u207b\u00b9]", 6)
date_axis(a_top)
b = blocks(a_top, ver_a_bb_edges, ver_a_bb_flux, ver_a_bb_hw)
m = points(a_top, ver_a_mjd, ver_a_flux, ver_a_err, 0, "circle", C_VER, 7.5)
legend(a_top, b, m, "VERITAS")
note(a_top, 155, 8.5, "1ES 1218+304, VERITAS nightly bins")
note(a_top, 155, 20.5, "0.2 TeV < E < 30.0 TeV")
note(a_top, 376, 12.3, "ICRC 2019")

a_mid = panel(XA, (-0.0175, 0.301), FWA, 99, 37, 4, 0, 0,
              [0.0, 0.1, 0.2, 0.3], "%.1f", "\u2131 (\u00d710\u2077) [cm\u207b\u00b2s\u207b\u00b9]", 2)
b = blocks(a_mid, lat_a_bb_edges, lat_a_bb_flux, lat_a_bb_hw)
lat_a_mjd = [lat_a_start + lat_a_bin * i for i in range(len(lat_a_flux))]
m = points(a_mid, lat_a_mjd, lat_a_flux, lat_a_err, lat_a_bin / 2, "square", C_LAT, 7)
legend(a_mid, b, m, "Fermi-LAT")
note(a_mid, 155.7, 6.7, "1ES 1218+304, Fermi-LAT 8-week bins")
note(a_mid, 155.7, 16.6, "0.2 GeV < E < 300 GeV")

a_bot = panel(XA, (0.075, 4.653), FWA, 103, 37, 4, 0, 24,
              [1, 2, 3, 4], "%d", "Rate [counts s\u207b\u00b9]", 0)
mjd_axis(a_bot)
b = blocks(a_bot, xrt_a_bb_edges, xrt_a_bb_rate, xrt_a_bb_hw)
m = points(a_bot, xrt_a_mjd, xrt_a_rate, xrt_a_err, 0, "inverted_triangle", C_XRT, 7.5)
legend(a_bot, b, m, "Swift-XRT")
note(a_bot, 154.7, 9.3, "1ES 1218+304, Swift-XRT nightly bins")
note(a_bot, 154.7, 20.6, "0.3 keV < E < 10 keV")
a_cap = caption_fig(FWA, 44, 37, 4, 257, 30, captions[0])

# ---------------------------------------------------------------- (b)
XB = (53234, 58691)
FWB = 531
b_top = panel(XB, (-0.104, 1.084), FWB, 99, 37, 4, 23, 0,
              [0.0, 0.25, 0.5, 0.75, 1.0], "%.2f", "\u2131 (\u00d710\u00b9\u2070) [cm\u207b\u00b2s\u207b\u00b9]", 1)
date_axis(b_top)
b = blocks(b_top, ver_b_bb_edges, ver_b_bb_flux, ver_b_bb_hw)
m = points(b_top, ver_b_mjd, ver_b_flux, ver_b_err, 0, "circle", C_VER, 7.5)
legend(b_top, b, m, "VERITAS")
note(b_top, 152, 8.3, "PG 1553+113, VERITAS nightly bins")
note(b_top, 152, 19, "0.15 TeV < E < 30.0 TeV")
note(b_top, 372, 11.6, "ICRC 2019")

b_mid = panel(XB, (-0.07, 1.332), FWB, 101, 37, 4, 0, 0,
              [0.0, 0.5, 1.0], "%.1f", "\u2131 (\u00d710\u2077) [cm\u207b\u00b2s\u207b\u00b9]", 0)
b = blocks(b_mid, lat_b_bb_edges, lat_b_bb_flux, lat_b_bb_hw)
lat_b_mjd = [lat_b_start + lat_b_bin * i for i in range(len(lat_b_flux))]
m = points(b_mid, lat_b_mjd, lat_b_flux, lat_b_err, lat_b_bin / 2, "square", C_LAT, 7, alpha=0.9)
legend(b_mid, b, m, "Fermi-LAT")
note(b_mid, 152, 9.7, "PG 1553+113, Fermi-LAT 1-week bins")
note(b_mid, 152, 20.7, "0.2 GeV < E < 300 GeV")

b_bot = panel(XB, (-0.109, 6.386), FWB, 101, 37, 4, 0, 24,
              [0, 2, 4, 6], "%d", "Rate [counts s\u207b\u00b9]", -2)
mjd_axis(b_bot)
b = blocks(b_bot, xrt_b_bb_edges, xrt_b_bb_rate, xrt_b_bb_hw)
m = points(b_bot, xrt_b_mjd, xrt_b_rate, xrt_b_err, 0, "inverted_triangle", C_XRT, 7.5)
legend(b_bot, b, m, "Swift-XRT")
note(b_bot, 152, 10.8, "PG 1553+113, Swift-XRT nightly bins")
note(b_bot, 152, 21.3, "0.3 keV < E < 10 keV")
b_cap = caption_fig(FWB, 44, 37, 4, 257, 30, captions[1])

col_a = column(a_top, a_mid, a_bot, a_cap, spacing=0)
col_b = column(b_top, b_mid, b_bot, b_cap, spacing=0)
root = row(col_a, col_b, spacing=0, margin=(-4, -4, -4, -4))

open("out.html", "w").write(file_html(root, INLINE))
